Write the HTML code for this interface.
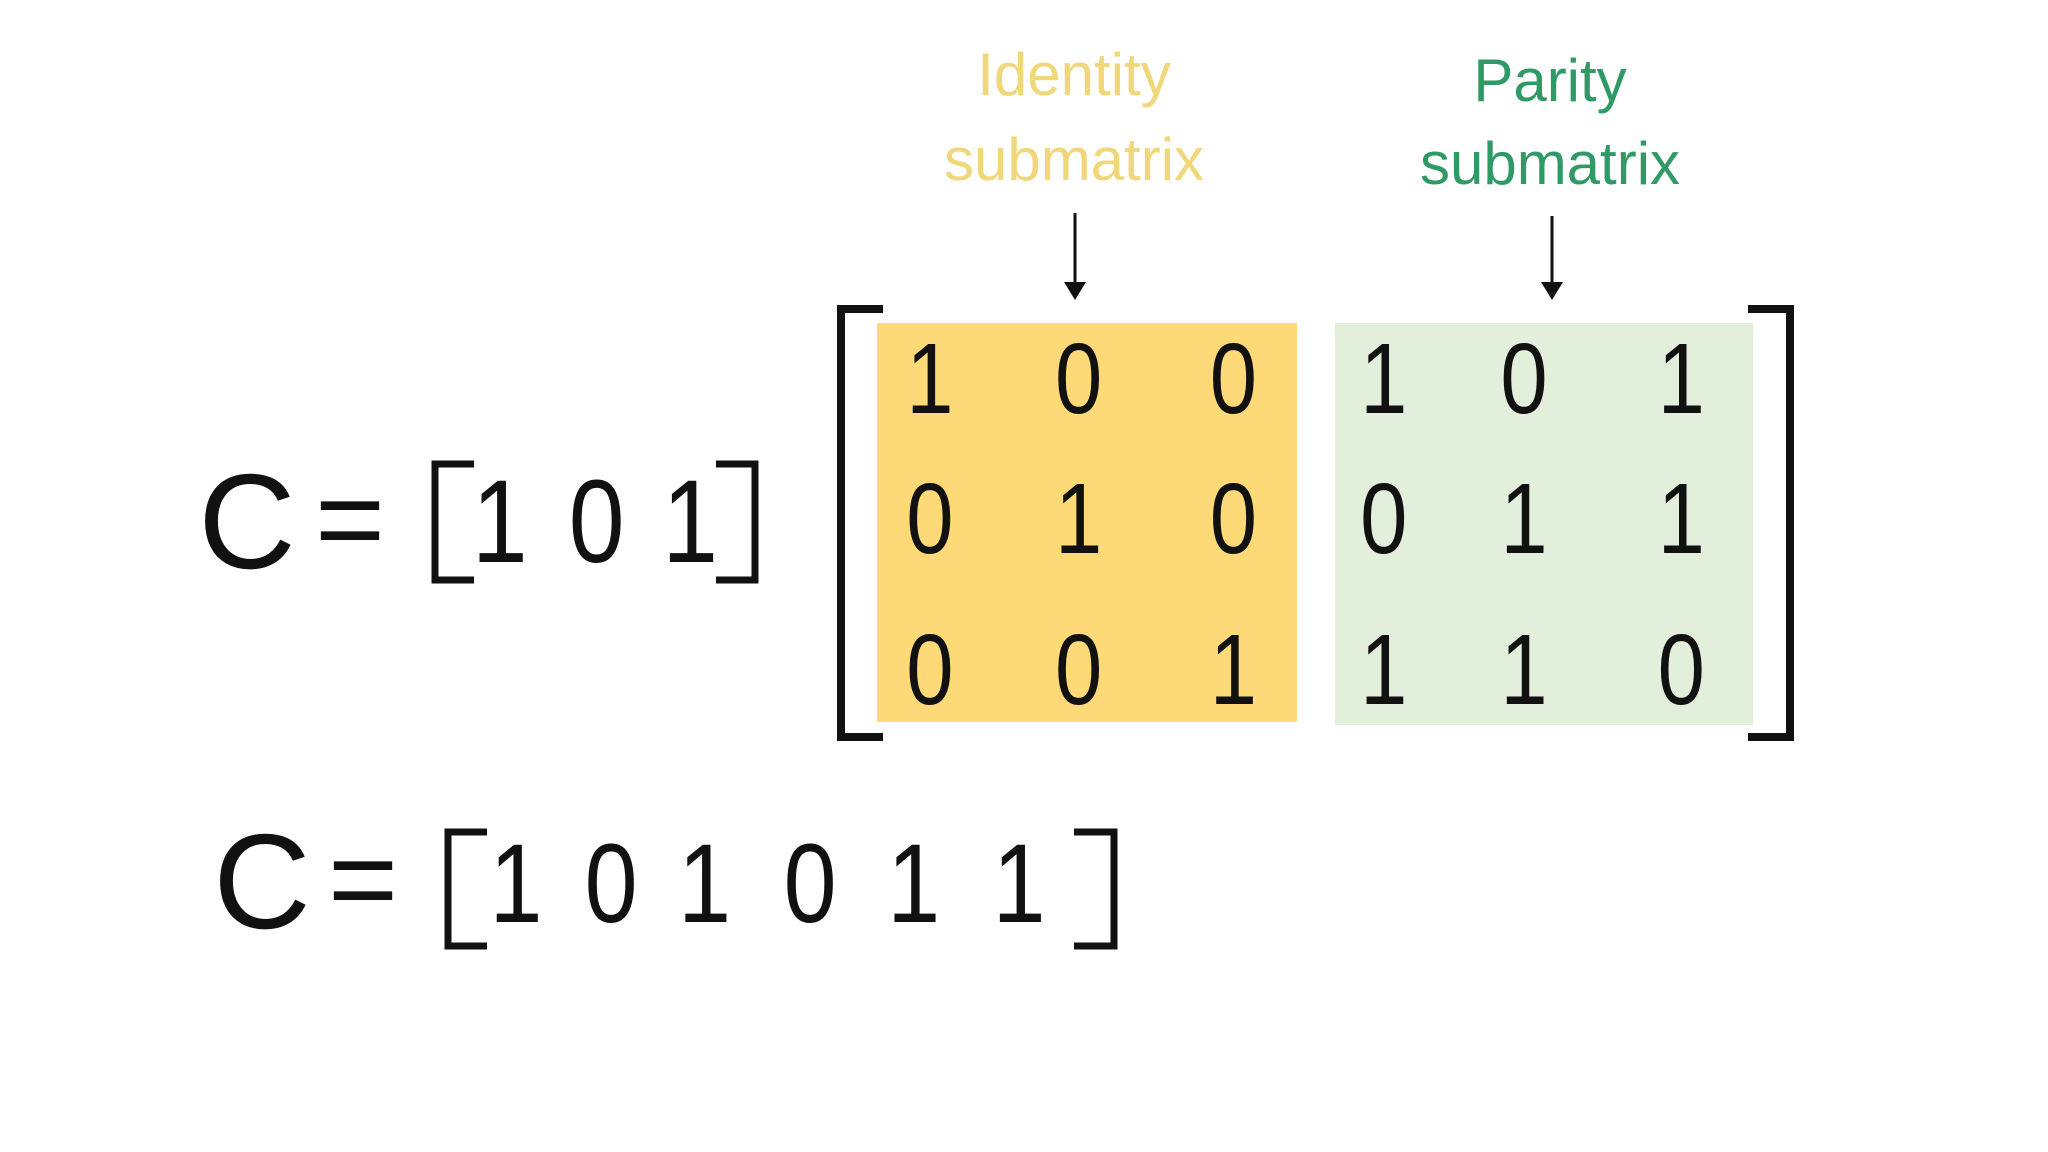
<!DOCTYPE html>
<html><head><meta charset="utf-8"><style>html,body{margin:0;padding:0;background:#fff}svg{display:block}</style></head>
<body>
<svg width="2048" height="1152" viewBox="0 0 2048 1152" xmlns="http://www.w3.org/2000/svg" font-family="Liberation Sans, sans-serif">
<rect width="2048" height="1152" fill="#fff"/>
<!-- labels -->
<g font-size="60" text-anchor="middle">
<text x="1074" y="95" fill="#efd77a">Identity</text>
<text x="1074" y="180" fill="#efd77a">submatrix</text>
<text x="1550" y="101" fill="#2f9a66">Parity</text>
<text x="1550" y="184" fill="#2f9a66">submatrix</text>
</g>
<!-- arrows -->
<g stroke="#111" stroke-width="3">
<line x1="1075" y1="213" x2="1075" y2="285"/>
<line x1="1552" y1="216" x2="1552" y2="285"/>
</g>
<polygon points="1064,282 1086,282 1075,300" fill="#111"/>
<polygon points="1541,282 1563,282 1552,300" fill="#111"/>
<!-- boxes -->
<rect x="877" y="323" width="420" height="399" fill="#fdd978"/>
<rect x="1335" y="323" width="418" height="402" fill="#e2efdb"/>
<!-- big brackets -->
<g fill="none" stroke="#111" stroke-width="8">
<polyline points="883,309 841,309 841,737 883,737"/>
<polyline points="1748,309 1790,309 1790,737 1748,737"/>
</g>
<!-- matrix digits -->
<g font-size="100" fill="#111" text-anchor="middle" transform="translate(0,0)">
<g transform="scale(0.85,1)">
<text x="1094" y="413">1</text><text x="1269" y="413">0</text><text x="1451" y="413">0</text>
<text x="1628" y="413">1</text><text x="1793" y="413">0</text><text x="1978" y="413">1</text>
<text x="1094" y="553">0</text><text x="1269" y="553">1</text><text x="1451" y="553">0</text>
<text x="1628" y="553">0</text><text x="1793" y="553">1</text><text x="1978" y="553">1</text>
<text x="1094" y="704">0</text><text x="1269" y="704">0</text><text x="1451" y="704">1</text>
<text x="1628" y="704">1</text><text x="1793" y="704">1</text><text x="1978" y="704">0</text>
</g>
</g>
<!-- C = [1 0 1] -->
<g fill="#111" text-anchor="middle">
<text x="247" y="568" font-size="135">C</text>
<text x="350" y="560" font-size="120">=</text>
<g font-size="118" transform="scale(0.85,1)">
<text x="588" y="562">1</text><text x="702" y="562">0</text><text x="812" y="562">1</text>
</g>
<text x="262" y="928" font-size="135">C</text>
<text x="363" y="920" font-size="120">=</text>
<g font-size="112" transform="scale(0.85,1)">
<text x="607" y="922">1</text><text x="719" y="922">0</text><text x="829" y="922">1</text>
<text x="953" y="922">0</text><text x="1075" y="922">1</text><text x="1199" y="922">1</text>
</g>
</g>
<g fill="none" stroke="#111" stroke-width="7">
<polyline points="474,464 435,464 435,580 474,580"/>
<polyline points="716,464 755,464 755,580 716,580"/>
<polyline points="487,832 448,832 448,946 487,946"/>
<polyline points="1074,832 1114,832 1114,946 1074,946"/>
</g>
</svg>
</body></html>
